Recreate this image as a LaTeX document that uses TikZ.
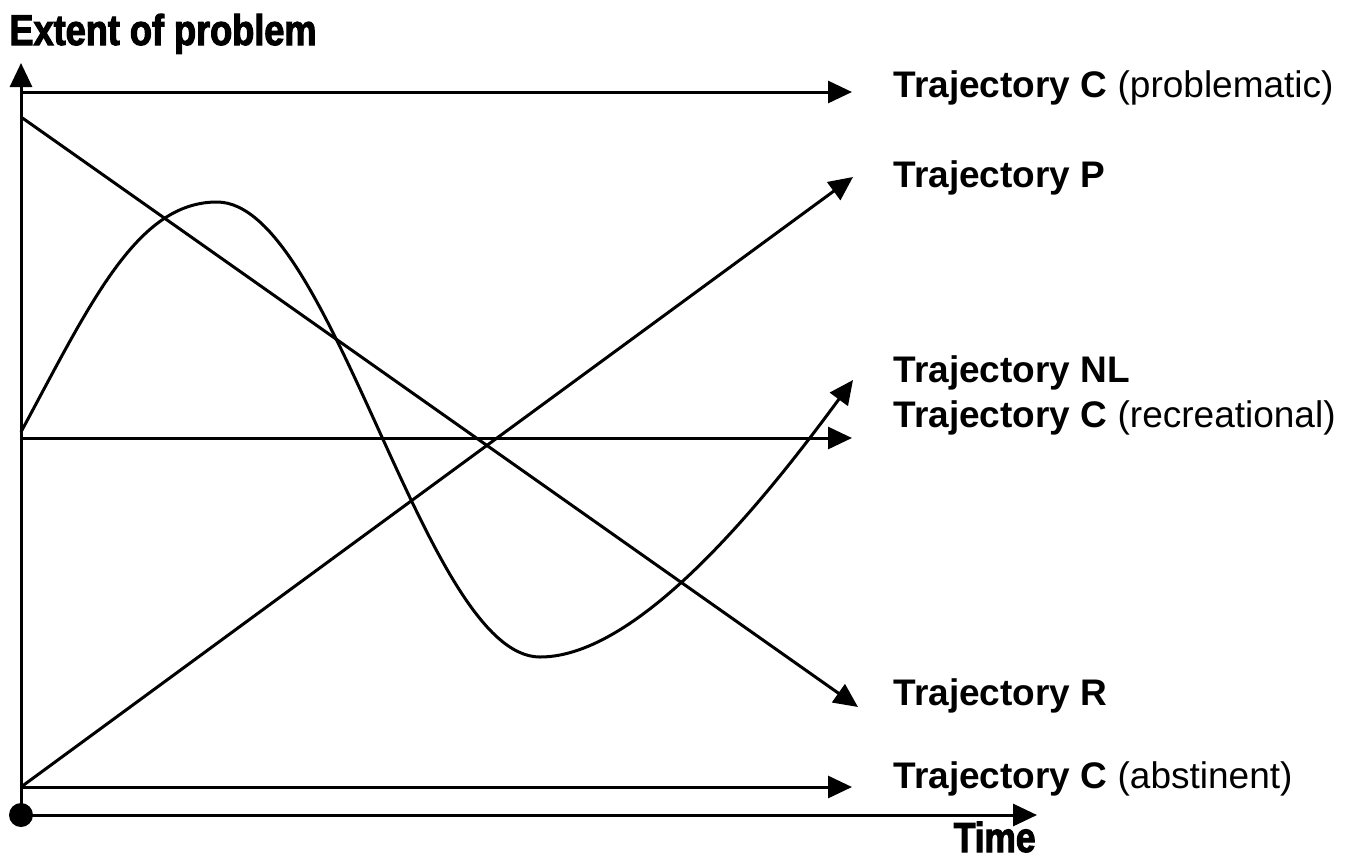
\documentclass[tikz,border=0pt]{standalone}
\usepackage{fontspec}
\setmainfont{Liberation Sans}
\newfontfamily\axisfont{Liberation Sans Bold}[FakeStretch=0.84,FakeBold=2.5]
\usetikzlibrary{arrows.meta}
\begin{document}
\begin{tikzpicture}[x=1pt, y=-1pt, >={Triangle[length=24pt,width=22pt]}, line width=3pt]
 \useasboundingbox (0,0) rectangle (1346,863);
 % axes
 \coordinate (origin) at (21,815);
 \coordinate (ytip) at (21,63);
 \coordinate (xtip) at (1037,815);
 \draw[->] (origin) -- (ytip);
 \draw[->] (origin) -- (xtip);
 \fill (origin) circle (12);
 \node[anchor=base west, inner sep=0pt, font=\axisfont\fontsize{43}{46}\selectfont] (ylabel) at (8,45) {Extent of problem};
 \node[anchor=base east, inner sep=0pt, font=\axisfont\fontsize{42}{46}\selectfont] (xlabel) at (1037,852) {Time};
 % start and end points
 \coordinate (sProb) at (21,92);
 \coordinate (eProb) at (852,92);
 \coordinate (sRec) at (21,438);
 \coordinate (eRec) at (852,438);
 \coordinate (sAbs) at (21,787);
 \coordinate (eAbs) at (852,787);
 \coordinate (sR) at (21,117);
 \coordinate (eR) at (858,707);
 \coordinate (eP) at (853,177);
 \coordinate (sNL) at (21,432);
 \coordinate (eNL) at (853,380);
 % trajectories
 \draw[->] (sProb) -- (eProb);
 \draw[->] (sRec) -- (eRec);
 \draw[->] (sAbs) -- (eAbs);
 \draw[->] (sR) -- (eR);
 \draw[->] (sAbs) -- (eP);
 \draw[->] (sNL) .. controls (91,302) and (137,202) .. (217,202)
   .. controls (333,202) and (424,657) .. (540,657)
   .. controls (640,657) and (767,497) .. (eNL);
 % labels
 \begin{scope}[every node/.style={anchor=base west, inner sep=0pt, font=\fontsize{37}{40}\selectfont}]
  \node (lProb) at (892,97) {\textbf{Trajectory C} (problematic)};
  \node (lP) at (892,187) {\textbf{Trajectory P}};
  \node (lNL) at (892,382) {\textbf{Trajectory NL}};
  \node (lRec) at (892,427) {\textbf{Trajectory C} (recreational)};
  \node (lR) at (892,705) {\textbf{Trajectory R}};
  \node (lAbs) at (892,788) {\textbf{Trajectory C} (abstinent)};
 \end{scope}
\end{tikzpicture}
\end{document}
